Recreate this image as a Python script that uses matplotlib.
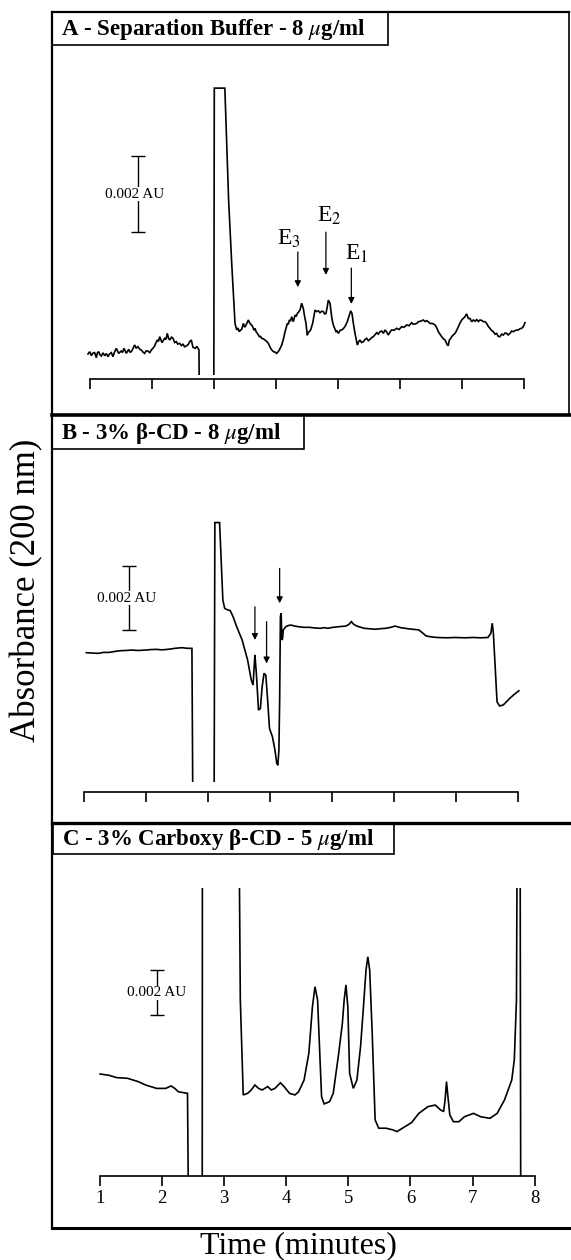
import numpy as np
import matplotlib
matplotlib.use("Agg")
import matplotlib.pyplot as plt
from matplotlib.lines import Line2D
from matplotlib.patches import Rectangle

plt.rcParams['font.family'] = ['Liberation Serif', 'DejaVu Serif']
plt.rcParams['mathtext.fontset'] = 'stix'

W, H = 571, 1260   # canvas size in pixels

# electropherograms: (time in min, absorbance in mAU above baseline)
trace_a = np.array([
    (0.963, 0.0), (0.99, 0.06), (1.017, -0.04), (1.04, 0.02), (1.070, 0.035), (1.097, -0.096),
    (1.115, 0.03), (1.135, 0.061), (1.155, -0.02), (1.178, -0.052), (1.205, 0.03), (1.232, -0.044),
    (1.26, 0.01), (1.285, -0.07), (1.31, 0.0), (1.339, 0.035), (1.366, -0.07), (1.39, 0.05),
    (1.420, 0.148), (1.457, 0.017), (1.500, 0.079), (1.52, 0.04), (1.543, 0.148), (1.581, 0.017),
    (1.619, 0.122), (1.64, 0.05), (1.662, 0.061), (1.69, 0.15), (1.716, 0.236), (1.74, 0.15),
    (1.769, 0.192), (1.80, 0.12), (1.823, 0.105), (1.85, 0.05), (1.876, 0.017), (1.90, 0.08),
    (1.930, 0.079), (1.96, 0.03), (1.984, 0.105), (2.01, 0.15), (2.038, 0.209), (2.06, 0.30),
    (2.081, 0.366), (2.10, 0.33), (2.119, 0.454), (2.156, 0.297), (2.18, 0.36), (2.199, 0.410),
    (2.22, 0.38), (2.242, 0.541), (2.26, 0.42), (2.280, 0.366), (2.31, 0.44), (2.334, 0.410),
    (2.36, 0.30), (2.387, 0.323), (2.41, 0.26), (2.441, 0.279), (2.47, 0.22), (2.495, 0.262),
    (2.52, 0.19), (2.549, 0.209), (2.58, 0.25), (2.602, 0.323), (2.629, 0.366), (2.656, 0.175),
    (2.694, 0.148), (2.72, 0.20), (2.753, 0.105), (2.765, -3.0), (2.99, -3.0), (3.0, 9.0),
    (3.17, 9.0), (3.231, 4.03), (3.28, 2.4), (3.334, 0.80), (3.361, 0.63), (3.38, 0.68),
    (3.404, 0.585), (3.42, 0.62), (3.442, 0.646), (3.469, 0.80), (3.49, 0.70), (3.512, 0.76),
    (3.53, 0.82), (3.549, 0.89), (3.576, 0.80), (3.60, 0.76), (3.619, 0.716), (3.64, 0.62),
    (3.657, 0.672), (3.675, 0.58), (3.695, 0.54), (3.71, 0.50), (3.727, 0.454), (3.745, 0.46),
    (3.765, 0.41), (3.79, 0.40), (3.818, 0.366), (3.845, 0.33), (3.872, 0.279), (3.89, 0.21),
    (3.910, 0.148), (3.93, 0.10), (3.953, 0.061), (3.98, 0.05), (4.006, 0.017), (4.03, 0.06),
    (4.049, 0.105), (4.07, 0.18), (4.087, 0.236), (4.105, 0.33), (4.124, 0.454), (4.14, 0.58),
    (4.157, 0.672), (4.178, 0.80), (4.195, 0.78), (4.210, 0.89), (4.23, 0.86), (4.248, 0.977),
    (4.275, 0.846), (4.302, 1.02), (4.32, 0.98), (4.339, 1.06), (4.36, 1.10), (4.382, 1.15),
    (4.409, 1.33), (4.436, 1.19), (4.455, 1.00), (4.479, 0.80), (4.500, 0.49), (4.515, 0.56),
    (4.532, 0.585), (4.554, 0.63), (4.57, 0.72), (4.586, 0.80), (4.605, 0.98), (4.624, 1.15),
    (4.651, 1.11), (4.68, 1.13), (4.705, 1.08), (4.73, 1.12), (4.758, 1.11), (4.78, 1.05),
    (4.801, 1.06), (4.82, 1.22), (4.839, 1.41), (4.866, 1.33), (4.893, 0.977), (4.91, 0.82),
    (4.930, 0.716), (4.963, 0.585), (4.98, 0.60), (5.001, 0.54), (5.03, 0.62), (5.055, 0.63),
    (5.08, 0.66), (5.108, 0.72), (5.146, 0.85), (5.178, 1.02), (5.200, 1.13), (5.221, 1.06),
    (5.243, 0.80), (5.269, 0.54), (5.296, 0.32), (5.307, 0.236), (5.33, 0.33), (5.350, 0.366),
    (5.375, 0.30), (5.404, 0.32), (5.43, 0.38), (5.458, 0.41), (5.485, 0.35), (5.511, 0.384),
    (5.54, 0.43), (5.565, 0.454), (5.59, 0.50), (5.619, 0.559), (5.645, 0.52), (5.673, 0.585),
    (5.70, 0.60), (5.727, 0.54), (5.753, 0.63), (5.78, 0.58), (5.807, 0.497), (5.835, 0.58),
    (5.861, 0.63), (5.90, 0.62), (5.941, 0.672), (5.98, 0.64), (6.022, 0.716), (6.06, 0.70),
    (6.103, 0.76), (6.14, 0.74), (6.183, 0.82), (6.21, 0.78), (6.237, 0.785), (6.265, 0.80),
    (6.291, 0.846), (6.33, 0.86), (6.371, 0.89), (6.40, 0.85), (6.425, 0.872), (6.455, 0.84),
    (6.479, 0.80), (6.52, 0.80), (6.560, 0.76), (6.59, 0.68), (6.613, 0.585), (6.64, 0.52),
    (6.667, 0.454), (6.694, 0.40), (6.721, 0.366), (6.74, 0.30), (6.759, 0.236), (6.774, 0.22),
    (6.791, 0.366), (6.81, 0.40), (6.829, 0.454), (6.855, 0.50), (6.882, 0.54), (6.91, 0.62),
    (6.936, 0.716), (6.96, 0.80), (6.990, 0.89), (7.015, 0.93), (7.044, 0.977), (7.070, 1.05),
    (7.097, 0.93), (7.124, 0.93), (7.151, 0.846), (7.177, 0.89), (7.205, 0.86), (7.232, 0.90),
    (7.26, 0.85), (7.285, 0.89), (7.312, 0.88), (7.339, 0.846), (7.366, 0.846), (7.393, 0.80),
    (7.42, 0.72), (7.446, 0.672), (7.47, 0.62), (7.500, 0.585), (7.527, 0.52), (7.554, 0.54),
    (7.58, 0.46), (7.607, 0.454), (7.634, 0.52), (7.661, 0.497), (7.69, 0.55), (7.715, 0.54),
    (7.74, 0.50), (7.769, 0.54), (7.795, 0.60), (7.823, 0.585), (7.86, 0.62), (7.903, 0.63),
    (7.93, 0.66), (7.957, 0.672), (7.985, 0.72), (8.011, 0.82),
])

trace_b = np.array([
    (1.041, 0.0), (1.12, -0.01), (1.235, -0.02), (1.32, 0.01), (1.411, 0.01), (1.50, 0.04),
    (1.587, 0.063), (1.68, 0.07), (1.763, 0.084), (1.88, 0.07), (1.998, 0.084), (2.09, 0.10),
    (2.174, 0.105), (2.26, 0.09), (2.351, 0.105), (2.41, 0.12), (2.468, 0.137), (2.53, 0.15),
    (2.585, 0.158), (2.66, 0.14), (2.744, 0.137), (2.762, -6.0), (3.10, -6.0), (3.114, 6.0),
    (3.190, 6.0), (3.220, 2.72), (3.243, 1.66), (3.272, 1.40), (3.319, 1.35), (3.361, 1.33),
    (3.407, 1.14), (3.466, 0.82), (3.554, 0.40), (3.642, -0.23), (3.701, -0.86), (3.730, -1.02),
    (3.748, -0.44), (3.760, -0.07), (3.783, -0.65), (3.818, -1.81), (3.848, -1.76), (3.877, -1.07),
    (3.907, -0.65), (3.936, -0.71), (3.965, -1.49), (3.995, -2.39), (4.042, -2.65), (4.083, -3.07),
    (4.112, -3.49), (4.130, -3.55), (4.147, -3.07), (4.159, -1.49), (4.171, 1.14), (4.183, 1.24),
    (4.194, 0.40), (4.206, 0.45), (4.218, 0.72), (4.259, 0.82), (4.30, 0.86), (4.347, 0.87),
    (4.40, 0.84), (4.464, 0.82), (4.55, 0.80), (4.641, 0.80), (4.73, 0.78), (4.817, 0.77),
    (4.88, 0.79), (4.934, 0.77), (5.02, 0.80), (5.110, 0.82), (5.228, 0.84), (5.280, 0.90),
    (5.316, 0.98), (5.35, 0.90), (5.404, 0.84), (5.521, 0.77), (5.698, 0.74), (5.80, 0.76),
    (5.874, 0.77), (5.95, 0.80), (6.021, 0.84), (6.109, 0.79), (6.25, 0.75), (6.402, 0.72),
    (6.461, 0.63), (6.520, 0.53), (6.60, 0.50), (6.696, 0.48), (6.85, 0.47), (6.989, 0.48),
    (7.15, 0.47), (7.283, 0.48), (7.40, 0.47), (7.518, 0.48), (7.565, 0.61), (7.588, 0.93),
    (7.606, 0.61), (7.635, -0.44), (7.665, -1.55), (7.706, -1.68), (7.765, -1.65), (7.870, -1.44),
    (7.94, -1.32), (8.017, -1.2),
])

trace_c = np.array([
    (1.0, 0.0), (1.147, -0.06), (1.264, -0.16), (1.440, -0.19), (1.616, -0.34), (1.734, -0.49),
    (1.910, -0.64), (2.056, -0.64), (2.144, -0.53), (2.203, -0.64), (2.262, -0.79), (2.408, -0.86),
    (2.43, -8.0), (2.645, -8.0), (2.649, 14.0), (3.23, 14.0), (3.259, 3.29), (3.306, -0.93),
    (3.377, -0.86), (3.435, -0.71), (3.494, -0.49), (3.553, -0.64), (3.611, -0.71), (3.700, -0.56),
    (3.758, -0.71), (3.817, -0.64), (3.905, -0.39), (3.964, -0.56), (4.052, -0.86), (4.140, -0.93),
    (4.198, -0.79), (4.286, -0.27), (4.363, 0.92), (4.421, 2.99), (4.462, 3.88), (4.504, 3.29),
    (4.539, 0.92), (4.568, -1.01), (4.609, -1.33), (4.697, -1.23), (4.756, -0.86), (4.844, 0.92),
    (4.903, 2.25), (4.932, 3.29), (4.961, 3.96), (4.991, 2.99), (5.020, 0.03), (5.079, -0.64),
    (5.137, -0.27), (5.196, 1.21), (5.243, 2.99), (5.284, 4.62), (5.313, 5.21), (5.343, 4.62),
    (5.384, 1.81), (5.431, -2.04), (5.489, -2.41), (5.607, -2.41), (5.724, -2.49), (5.783, -2.56),
    (5.871, -2.41), (6.018, -2.16), (6.135, -1.75), (6.282, -1.45), (6.399, -1.38), (6.487, -1.60),
    (6.534, -1.67), (6.558, -1.16), (6.581, -0.34), (6.604, -1.01), (6.634, -1.82), (6.692, -2.12),
    (6.781, -2.12), (6.869, -1.90), (7.015, -1.75), (7.133, -1.90), (7.280, -1.97), (7.397, -1.75),
    (7.514, -1.16), (7.632, -0.27), (7.673, 0.62), (7.708, 3.29), (7.725, 14.0), (7.765, 14.0),
    (7.778, -8.0),
])

titles = ['A - Separation Buffer - 8 $\\mu$g/ml',
          'B - 3% β-CD - 8 $\\mu$g/ml',
          'C - 3% Carboxy β-CD - 5 $\\mu$g/ml']

# 0.002 AU scale bars: (time, low end, high end) in mAU
scalebar_a = (1.763, 3.19, 5.18)
scalebar_b = (1.734, 0.72, 2.72)
scalebar_c = (1.910, 2.62, 4.62)

# enantiomer arrows in A: time, tail, head
arrows_a = [(4.347, 2.67, 1.75), (4.80, 3.19, 2.07), (5.21, 2.25, 1.31)]
# their labels: text, time, baseline
labels_a = [('E$_3$', 4.21, 2.85), ('E$_2$', 4.86, 3.46), ('E$_1$', 5.30, 2.46)]
# unlabelled arrows in B: time, tail, head
arrows_b = [(3.76, 1.45, 0.40), (3.948, 0.98, -0.34), (4.159, 2.66, 1.56)]

time_ticks = list(range(1, 9))

fig = plt.figure(figsize=(W / 100, H / 100), dpi=100)


def fx(x):
    return x / W


def fy(y):
    return 1 - y / H


def add_trace_axes(x1, px_min, y0, px_mau, lo, hi):
    # t = 1 sits at pixel x1, zero absorbance at pixel row y0
    left = x1 - 0.15 * px_min
    right = x1 + 7.15 * px_min
    top = y0 - hi * px_mau
    bottom = y0 - lo * px_mau
    ax = fig.add_axes([fx(left), fy(bottom), (right - left) / W, (bottom - top) / H])
    ax.set_xlim(0.85, 8.15)
    ax.set_ylim(lo, hi)
    ax.patch.set_alpha(0)
    for s in ['left', 'right', 'top']:
        ax.spines[s].set_visible(False)
    ax.spines['bottom'].set_bounds(1, 8)
    ax.spines['bottom'].set_linewidth(1.2)
    ax.set_yticks([])
    ax.set_xticks(time_ticks)
    ax.tick_params(axis='x', direction='out', length=7, width=1.2, labelsize=13.5, pad=3)
    return ax


def draw_trace(ax, trace, clip_top=None):
    a = trace[:, 1] if clip_top is None else np.clip(trace[:, 1], None, clip_top)
    ax.plot(trace[:, 0], a, color='black', lw=1.2, solid_joinstyle='miter')


def draw_scalebar(ax, bar, dx=0.0):
    t, lo, hi = bar
    ax.errorbar([t], [(lo + hi) / 2], yerr=[(hi - lo) / 2], fmt='none', ecolor='black',
                elinewidth=1.0, capsize=5, capthick=1.0)
    ax.text(t + dx, (lo + hi) / 2, '0.002 AU', fontsize=11, ha='center', va='center',
            bbox=dict(facecolor='white', edgecolor='none', pad=0.3))


def draw_arrow(ax, t, tail, head):
    ax.annotate('', xy=(t, head), xytext=(t, tail),
                arrowprops=dict(arrowstyle='-|>', color='black', lw=0.9, mutation_scale=9,
                                shrinkA=0, shrinkB=0))


# panel A
ax_a = add_trace_axes(90.3, 62.0, 354, 38.2, -0.55, 7.3)
ax_a.spines['bottom'].set_position(('outward', 3))
ax_a.set_xticklabels([])
draw_trace(ax_a, trace_a, clip_top=6.96)
draw_scalebar(ax_a, scalebar_a, dx=-0.05)
for t, tail, head in arrows_a:
    draw_arrow(ax_a, t, tail, head)
for label, t, base in labels_a:
    ax_a.text(t, base, label, fontsize=17, ha='center', va='baseline')

# panel B
ax_b = add_trace_axes(83.8, 62.0, 652.7, 31.7, -4.07, 4.4)
ax_b.spines['bottom'].set_position(('outward', 7.2))
ax_b.set_xticklabels([])
draw_trace(ax_b, trace_b, clip_top=4.105)
draw_scalebar(ax_b, scalebar_b, dx=-0.05)
for t, tail, head in arrows_b:
    draw_arrow(ax_b, t, tail, head)

# panel C
ax_c = add_trace_axes(100.1, 62.07, 1074, 22.5, -4.53, 8.27)
draw_trace(ax_c, trace_c)
draw_scalebar(ax_c, scalebar_c)

# panel frames
frame_lines = [
    ((51.7, 51.7), (12, 1228), 1.6),
    ((51.7, 569), (12, 12), 1.6),
    ((569, 569), (12, 415), 1.2),
    ((51.7, 575), (415, 415), 2.6),
    ((51.7, 575), (823, 823), 2.4),
    ((51.7, 575), (1228, 1228), 2.2),
]
for xs, ys, lw in frame_lines:
    fig.add_artist(Line2D([fx(x) for x in xs], [fy(y) for y in ys], color='black', lw=lw,
                          transform=fig.transFigure))

# title boxes
title_boxes = [(51.7, 12, 388, 45), (51.7, 415, 304, 449), (52.8, 823, 394, 854)]
for title, (x0, y0, x1, y1) in zip(titles, title_boxes):
    fig.add_artist(Rectangle((fx(x0), fy(y1)), (x1 - x0) / W, (y1 - y0) / H, fill=False,
                             edgecolor='black', lw=1.2, transform=fig.transFigure))
    fig.text(fx(x0 + 9), fy((y0 + y1) / 2 + 1), title, fontsize=16.5, fontweight='bold',
             ha='left', va='center')

fig.text(fx(27), fy(590), 'Absorbance (200 nm)', fontsize=25, rotation=90,
         ha='center', va='center')
fig.text(fx(298), fy(1246), 'Time (minutes)', fontsize=23, ha='center', va='center')

fig.savefig('out.png', dpi=100)
